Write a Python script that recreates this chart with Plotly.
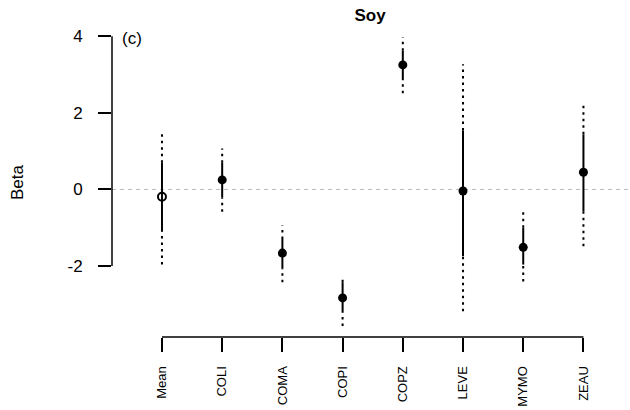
import plotly.graph_objects as go

# Effect estimates (Beta) per species for soy, with inner (solid) and outer (dotted) intervals
categories = ["Mean", "COLI", "COMA", "COPI", "COPZ", "LEVE", "MYMO", "ZEAU"]
beta = [-0.19, 0.25, -1.66, -2.83, 3.25, -0.04, -1.51, 0.45]
inner_lo = [-1.09, -0.20, -2.07, -3.21, 2.88, -1.74, -1.96, -0.57]
inner_hi = [0.70, 0.70, -1.29, -2.42, 3.62, 1.54, -1.00, 1.44]
outer_lo = [-1.96, -0.58, -2.42, -3.56, 2.51, -3.18, -2.40, -1.48]
outer_hi = [1.48, 1.07, -0.94, -2.25, 3.97, 3.27, -0.59, 2.28]
y_ticks = [-2, 0, 2, 4]

FONT = "Liberation Sans, Arial, sans-serif"
xpos = list(range(1, len(categories) + 1))


def segments(lo, hi):
    xs, ys = [], []
    for x, a, b in zip(xpos, lo, hi):
        xs += [x, x, None]
        ys += [a, b, None]
    return xs, ys


fig = go.Figure()

# Dotted tails: outer interval beyond the inner one, on each side
lx, ly = segments(outer_lo, inner_lo)
hx, hy = segments(inner_hi, outer_hi)
fig.add_trace(go.Scatter(x=lx + hx, y=ly + hy, mode="lines", hoverinfo="skip",
                         line=dict(color="black", width=2, dash="2.5px,4px")))
ix, iy = segments(inner_lo, inner_hi)
fig.add_trace(go.Scatter(x=ix, y=iy, mode="lines", hoverinfo="skip",
                         line=dict(color="black", width=2)))

# The overall mean is an open circle, species estimates are filled
fig.add_trace(go.Scatter(x=xpos[:1], y=beta[:1], mode="markers",
                         marker=dict(symbol="circle-open", size=8, color="black",
                                     line=dict(width=2))))
fig.add_trace(go.Scatter(x=xpos[1:], y=beta[1:], mode="markers",
                         marker=dict(symbol="circle", size=9, color="black")))

shapes = [
    # zero reference line
    dict(type="line", xref="paper", x0=0, x1=1, yref="y", y0=0, y1=0,
         line=dict(color="#bdbdbd", width=1, dash="4px,4px"), layer="below"),
    # y axis line spanning the tick range
    dict(type="line", xref="paper", x0=0, x1=0, yref="y",
         y0=min(y_ticks), y1=max(y_ticks), line=dict(color="black", width=1.5)),
    # x axis line spanning the categories
    dict(type="line", xref="x", x0=xpos[0], x1=xpos[-1], yref="paper", y0=0, y1=0,
         line=dict(color="black", width=1.5)),
]

fig.update_layout(
    width=630, height=410,
    margin=dict(l=112, r=2, t=27, b=73),
    paper_bgcolor="white", plot_bgcolor="white",
    showlegend=False,
    font=dict(family=FONT, color="black"),
    title=dict(text="<b>Soy</b>", x=0.5, xref="paper", xanchor="center",
               y=1 - 15 / 410, yref="container", yanchor="middle",
               font=dict(size=17, family=FONT, color="black")),
    shapes=shapes,
    annotations=[
        dict(text="(c)", xref="paper", x=0.0155, xanchor="left",
             yref="y", y=4, yanchor="middle", yshift=-2, showarrow=False,
             font=dict(size=17, family=FONT, color="black")),
        dict(text="Beta", xref="paper", x=-95 / 516, xanchor="center",
             yref="paper", y=0.5, yanchor="middle", textangle=-90, showarrow=False,
             font=dict(size=17, family=FONT, color="black")),
    ],
)

fig.update_xaxes(range=[0.17, 8.74], tickvals=xpos, ticktext=categories,
                 tickangle=-90, ticks="outside", ticklen=14, tickwidth=1.5,
                 tickcolor="black", showline=False, showgrid=False, zeroline=False,
                 ticklabelstandoff=9, automargin=False,
                 tickfont=dict(size=13, family=FONT, color="black"))
fig.update_yaxes(range=[-3.85, 4.24], tickvals=y_ticks,
                 ticktext=[str(v) for v in y_ticks],
                 ticks="outside", ticklen=13, tickwidth=1.5, tickcolor="black",
                 showline=False, showgrid=False, zeroline=False,
                 ticklabelstandoff=12, automargin=False,
                 tickfont=dict(size=17, family=FONT, color="black"))

fig.write_html("out.html")
